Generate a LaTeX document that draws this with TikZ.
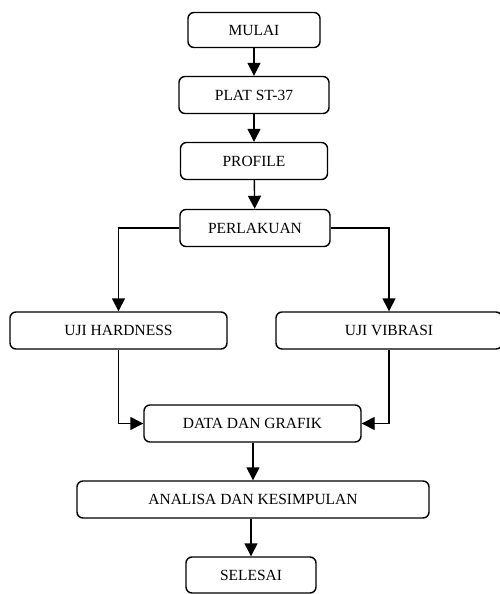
\documentclass[tikz,border=0pt]{standalone}
\usepackage{fontspec}
\setmainfont{Liberation Serif}
\usetikzlibrary{positioning,arrows.meta}
\tikzset{
  flowbox/.style={rectangle, rounded corners=6pt, draw=black, line width=1.4pt, fill=white, minimum height=37pt, align=center, inner sep=0pt, font=\fontsize{15.5}{18}\selectfont},
  arrow/.style={-{Triangle[length=13pt,width=13pt]}, line width=1.4pt}
}
\begin{document}
\begin{tikzpicture}[x=1pt,y=-1pt]
\useasboundingbox (0,0) rectangle (500,594);
% kotak alur
\node[flowbox, minimum width=132pt, minimum height=35pt] (mulai) at (254,30) {MULAI};
\node[flowbox, minimum width=150pt] (plat) at (254,95) {PLAT ST-37};
\node[flowbox, minimum width=147pt] (profile) at (254,161) {PROFILE};
\node[flowbox, minimum width=150pt] (perlakuan) at (255,228) {PERLAKUAN};
\node[flowbox, minimum width=217pt] (hardness) at (118.5,330.5) {UJI HARDNESS};
\node[flowbox, minimum width=226pt] (vibrasi) at (389,330.5) {UJI VIBRASI};
\node[flowbox, minimum width=217pt] (data) at (252.5,423.5) {DATA DAN GRAFIK};
\node[flowbox, minimum width=352pt] (analisa) at (253,499.5) {ANALISA DAN KESIMPULAN};
\node[flowbox, minimum width=130pt, minimum height=36pt] (selesai) at (251,575) {SELESAI};
% panah
\draw[arrow] (mulai) -- (plat);
\draw[arrow] (plat) -- (profile);
\draw[arrow] (profile) -- (perlakuan);
\draw[arrow] (perlakuan.west) -| (hardness.north);
\draw[arrow] (perlakuan.east) -| (vibrasi.north);
\draw[arrow] (hardness.south) |- (data.west);
\draw[arrow] (vibrasi.south) |- (data.east);
\draw[arrow] (data.south -| analisa.north) -- (analisa.north);
\draw[arrow] (analisa.south -| selesai.north) -- (selesai.north);
\end{tikzpicture}
\end{document}
